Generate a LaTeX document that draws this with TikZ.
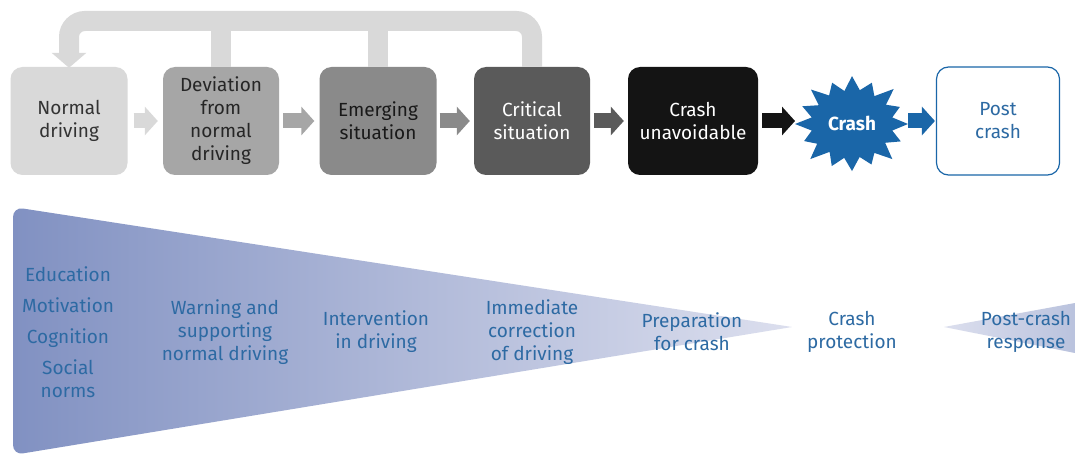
\documentclass[tikz,border=0pt]{standalone}
\usepackage{fontspec}
\setmainfont{Fira Sans}
\usetikzlibrary{arrows.meta}
\definecolor{band}{HTML}{D9D9D9}
\definecolor{cA}{HTML}{D9D9D9}
\definecolor{cB}{HTML}{A6A6A6}
\definecolor{cC}{HTML}{8A8A8A}
\definecolor{cD}{HTML}{5A5A5A}
\definecolor{cE}{HTML}{141414}
\definecolor{cblue}{HTML}{1A66A8}
\definecolor{tblue}{HTML}{2D6AA3}
\definecolor{wL}{HTML}{8191C2}
\definecolor{wR}{HTML}{DCDFEE}
\begin{document}
\begin{tikzpicture}[x=1pt,y=-1pt,
  box/.style={rounded corners=12pt, minimum height=108pt, inner sep=2pt, align=center,
    font=\fontsize{19}{23}\selectfont},
  blockarrow/.style={line width=15pt, -{Triangle[length=13pt,width=28pt]}},
  loopband/.style={draw=band, line width=20pt},
  lbl/.style={text=tblue, align=center, font=\fontsize{19}{23}\selectfont}
]
\useasboundingbox (0,0) rectangle (1075,457);
\fill[white] (0,0) rectangle (1075,457);

% wedges
\shade[left color=wL, right color=wR] (792,327) [rounded corners=10pt] -- (13,207) -- (13,455) [sharp corners] -- cycle;
\shade[left color=wR, right color=wL!55!white] (944,327) -- (1075,303) -- (1075,353) -- cycle;

% boxes
\node[box, fill=cA, text=black!80, minimum width=117pt] (n1) at (69,121) {Normal\\driving};
\node[box, fill=cB, text=black!85, minimum width=116pt] (n2) at (221,121) {Deviation\\from\\normal\\driving};
\node[box, fill=cC, text=black!90, minimum width=117pt] (n3) at (378,121) {Emerging\\situation};
\node[box, fill=cD, text=white, minimum width=116pt] (n4) at (532,121) {Critical\\situation};
\node[box, fill=cE, text=white, minimum width=130pt] (n5) at (693,121) {Crash\\unavoidable};

% crash star
\begin{scope}[shift={(852,124)}, yscale=0.84]
\fill[cblue] (0:56) \foreach \a/\r in {
  11/41, 23/53, 34/40, 46/58, 57/41, 68/52, 79/40, 90/56, 101/41, 112/54, 124/40, 135/59,
  146/42, 157/52, 169/41, 180/57, 191/41, 203/54, 214/40, 225/58, 236/41, 248/53, 259/40,
  270/57, 281/41, 292/53, 304/40, 315/59, 326/41, 337/52, 349/41} { -- (\a:\r) } -- cycle;
\end{scope}
\node[text=white, font=\bfseries\fontsize{19}{23}\selectfont] (n6) at (852,123) {Crash};
\coordinate (starW) at (795,121);
\coordinate (starE) at (908,121);

\node[box, fill=white, draw=cblue, line width=1.2pt, text=tblue, minimum width=123pt] (n7) at (998,121) {Post\\crash};

% arrows between boxes
\draw[blockarrow, draw=cA] ([xshift=6pt]n1.east) -- ([xshift=-5pt]n2.west);
\draw[blockarrow, draw=cB] ([xshift=4pt]n2.east) -- ([xshift=-5pt]n3.west);
\draw[blockarrow, draw=cC] ([xshift=3pt]n3.east) -- ([xshift=-4pt]n4.west);
\draw[blockarrow, draw=cD] ([xshift=4pt]n4.east) -- ([xshift=-4pt]n5.west);
\draw[blockarrow, draw=cE] ([xshift=4pt]n5.east) -- (starW);
\draw[blockarrow, draw=cblue] (starE) -- ([xshift=-1pt]n7.west);

% feedback loop
\coordinate (top) at (532,21);
\draw[loopband, rounded corners=16pt, -{Triangle[length=15pt,width=34pt]}]
  (n4.north) -- (top) -- (n1.north |- top) -- ([yshift=-1pt]n1.north);
\draw[loopband] (n2.north) -- (n2.north |- top);
\draw[loopband] (n3.north) -- (n3.north |- top);

% labels
\node[lbl] (l1) at (68,332) {Education\\[8pt]Motivation\\[8pt]Cognition\\[8pt]Social\\norms};
\node[lbl] (l2) at (225,332) {Warning and\\supporting\\normal driving};
\node[lbl] (l3) at (376,332) {Intervention\\in driving};
\node[lbl] (l4) at (532,332) {Immediate\\correction\\of driving};
\node[lbl] (l5) at (692,332) {Preparation\\for crash};
\node[lbl] (l6) at (852,332) {Crash\\protection};
\node[lbl] (l7) at (1026,332) {Post-crash\\response};
\end{tikzpicture}
\end{document}
